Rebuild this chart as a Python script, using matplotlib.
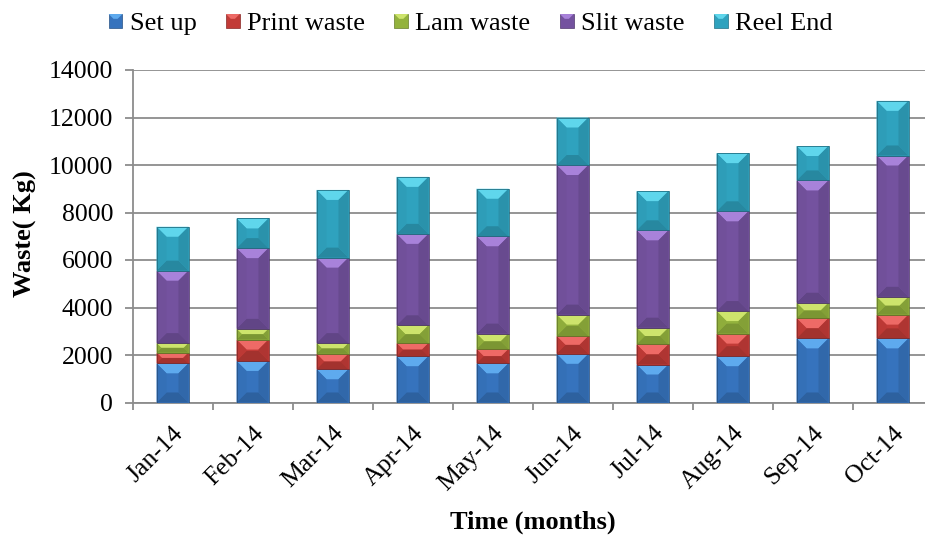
import numpy as np
import matplotlib
matplotlib.use("Agg")
import matplotlib.pyplot as plt
from matplotlib.patches import Polygon, Rectangle
from matplotlib.legend_handler import HandlerBase
from matplotlib.colors import to_rgb

months = ["Jan-14", "Feb-14", "Mar-14", "Apr-14", "May-14",
          "Jun-14", "Jul-14", "Aug-14", "Sep-14", "Oct-14"]
set_up      = [1650, 1750, 1400, 1950, 1650, 2050, 1600, 1950, 2700, 2700]
print_waste = [450, 900, 650, 550, 600, 750, 850, 950, 850, 1000]
lam_waste   = [400, 450, 450, 750, 650, 900, 700, 950, 650, 750]
slit_waste  = [3050, 3400, 3600, 3850, 4100, 6300, 4100, 4200, 5150, 5950]
reel_end    = [1850, 1250, 2850, 2400, 2000, 2000, 1650, 2450, 1450, 2300]

series_names = ["Set up", "Print waste", "Lam waste", "Slit waste", "Reel End"]
series_vals = [set_up, print_waste, lam_waste, slit_waste, reel_end]
base_colors = ["#3673bd", "#c23b37", "#93b23d", "#74529f", "#2fa2be"]
light_colors = ["#5eaaee", "#ee6a66", "#cde46c", "#a882da", "#5fd6ec"]

plt.rcParams["font.family"] = ["Liberation Serif", "DejaVu Serif"]

W, H, DPI = 925, 541, 100
fig = plt.figure(figsize=(W / DPI, H / DPI), dpi=DPI)
ax_left_px, ax_right_px, ax_top_px, ax_bot_px = 132.5, 932.5, 70.0, 402.5
ax = fig.add_axes([ax_left_px / W, 1 - ax_bot_px / H,
                   (ax_right_px - ax_left_px) / W, (ax_bot_px - ax_top_px) / H])

ymax = 14000
ax.set_xlim(-0.5, len(months) - 0.5)
ax.set_ylim(0, ymax)

# pixel -> data conversion for bevel geometry
px_x = 1.0 / ((ax_right_px - ax_left_px) / len(months))
px_y = ymax / (ax_bot_px - ax_top_px)


def shade(c, f):
    r, g, b = to_rgb(c)
    return (r * f, g * f, b * f)


def bevel_box(axis, x0, x1, y0, y1, base, light, depth_px=10, z=3):
    w_px = (x1 - x0) / px_x
    h_px = (y1 - y0) / px_y
    d = min(depth_px, w_px / 2.0, h_px / 2.0)
    dx, dy = d * px_x, d * px_y
    ix0, ix1, iy0, iy1 = x0 + dx, x1 - dx, y0 + dy, y1 - dy
    parts = [
        ([(x0, y0), (x1, y0), (x1, y1), (x0, y1)], base),
        ([(x0, y1), (x1, y1), (ix1, iy1), (ix0, iy1)], light),
        ([(x0, y0), (x1, y0), (ix1, iy0), (ix0, iy0)], shade(base, 0.84)),
        ([(x0, y0), (ix0, iy0), (ix0, iy1), (x0, y1)], shade(base, 0.97)),
        ([(x1, y0), (ix1, iy0), (ix1, iy1), (x1, y1)], shade(base, 0.9)),
    ]
    for pts, col in parts:
        axis.add_patch(Polygon(pts, closed=True, facecolor=col,
                               edgecolor="none", zorder=z))
    axis.add_patch(Rectangle((x0, y0), x1 - x0, y1 - y0, facecolor="none",
                             edgecolor=shade(base, 0.7), lw=0.6, zorder=z + 0.1))


x = np.arange(len(months))
bar_w = 0.4
bottom = np.zeros(len(months))
for vals, base, light in zip(series_vals, base_colors, light_colors):
    vals = np.asarray(vals, dtype=float)
    for xi, b, v in zip(x, bottom, vals):
        bevel_box(ax, xi - bar_w / 2, xi + bar_w / 2, b, b + v, base, light)
    bottom += vals

# grid and axes styling
ax.set_yticks(np.arange(0, ymax + 1, 2000))
ax.yaxis.grid(True, color="#8c8c8c", lw=1.3)
ax.set_axisbelow(True)
for s in ["top", "right"]:
    ax.spines[s].set_visible(False)
for s in ["left", "bottom"]:
    ax.spines[s].set_color("#8c8c8c")
    ax.spines[s].set_linewidth(1.3)
ax.set_xticks(np.arange(len(months) + 1) - 0.5, minor=False)
ax.set_xticklabels([])
ax.set_xticks(x, minor=True)
ax.set_xticklabels(months, minor=True, rotation=45, ha="right",
                   rotation_mode="anchor", fontsize=18.5)
ax.tick_params(axis="x", which="major", length=5, color="#8c8c8c", width=1.3)
ax.tick_params(axis="x", which="minor", length=0, pad=14)
ax.tick_params(axis="y", length=6, color="#8c8c8c", width=1.3, labelsize=18.5, pad=8)

ax.set_ylabel("Waste( Kg)", fontsize=19, fontweight="bold")
ax.yaxis.set_label_coords((37 - ax_left_px) / (ax_right_px - ax_left_px), 0.507)
fig.text(533 / W, 1 - 522 / H, "Time (months)", ha="center", va="center",
         fontsize=19, fontweight="bold")


class BevelHandler(HandlerBase):
    def __init__(self, base, light):
        super().__init__()
        self.base, self.light = base, light

    def create_artists(self, legend, orig_handle, xdescent, ydescent,
                       width, height, fontsize, trans):
        s = min(width, height) * 1.0
        x0 = -xdescent + (width - s) / 2
        y0 = -ydescent + (height - s) / 2
        d = s * 0.35
        arts = [
            Rectangle((x0, y0), s, s, facecolor=self.base,
                      edgecolor=shade(self.base, 0.7), lw=0.5, transform=trans),
            Polygon([(x0, y0 + s), (x0 + s, y0 + s), (x0 + s - d, y0 + s - d),
                     (x0 + d, y0 + s - d)], closed=True, facecolor=self.light,
                    edgecolor="none", transform=trans),
        ]
        return arts


handles = [Rectangle((0, 0), 1, 1, facecolor=c) for c in base_colors]
handler_map = {h: BevelHandler(b, l) for h, b, l in zip(handles, base_colors, light_colors)}
fig.legend(handles, series_names, handler_map=handler_map, loc="upper center",
           bbox_to_anchor=(470.5 / W, 1.0), ncol=5, frameon=False, fontsize=19,
           handlelength=0.52, handleheight=0.52, handletextpad=0.27,
           columnspacing=1.12, borderaxespad=0.1)

fig.savefig("out.png", dpi=DPI)
